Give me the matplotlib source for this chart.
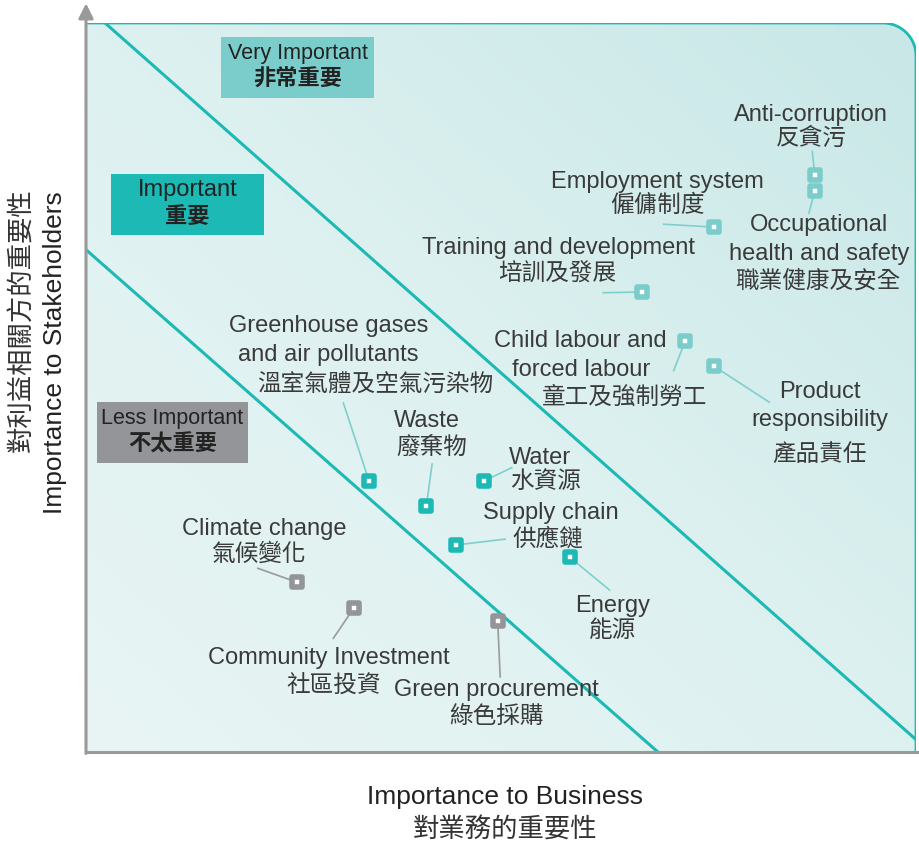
import numpy as np
import matplotlib.pyplot as plt
from matplotlib.colors import LinearSegmentedColormap
from matplotlib.markers import MarkerStyle
from matplotlib.patches import PathPatch, Rectangle
from matplotlib.path import Path

plt.rcParams['font.family'] = ['Liberation Sans', 'Noto Sans CJK TC', 'DejaVu Sans']

# materiality topics, x = importance to business, y = importance to stakeholders (0-10 scale)
topics_en = ['Anti-corruption', 'Occupational\nhealth and safety', 'Employment system',
             'Training and development', 'Child labour and\nforced labour',
             'Product\nresponsibility', 'Greenhouse gases\nand air pollutants', 'Waste',
             'Water', 'Supply chain', 'Energy', 'Climate change', 'Community Investment',
             'Green procurement']
topics_zh = ['反貪污', '職業健康及安全', '僱傭制度', '培訓及發展', '童工及強制勞工', '產品責任',
             '溫室氣體及空氣污染物', '廢棄物', '水資源', '供應鏈', '能源', '氣候變化',
             '社區投資', '綠色採購']
business = [8.78, 8.78, 7.57, 6.70, 7.22, 7.57, 3.41, 4.10, 4.80, 4.46, 5.83, 2.54, 3.23, 4.96]
stakeholders = [7.92, 7.70, 7.20, 6.31, 5.64, 5.29, 3.72, 3.37, 3.72, 2.84, 2.67, 2.33, 1.98, 1.80]
level = ['very', 'very', 'very', 'very', 'very', 'very',
         'imp', 'imp', 'imp', 'imp', 'imp', 'less', 'less', 'less']

# zone boundaries
upper_x = [0.23, 10.0]
upper_y = [10.0, 0.17]
lower_x = [0.0, 6.89]
lower_y = [6.89, 0.0]

zones = ['very', 'imp', 'less']
zone_en = ['Very Important', 'Important', 'Less Important']
zone_zh = ['非常重要', '重要', '不太重要']

# layout: label positions and leader line ends
en_pos = [(8.735, 8.77), (8.83, 7.07), (6.89, 7.86), (5.69, 6.955), (5.96, 5.47),
          (8.84, 4.78), (2.92, 5.68), (4.11, 4.58), (5.47, 4.07), (5.60, 3.31),
          (6.35, 2.04), (2.15, 3.10), (2.93, 1.33), (4.94, 0.89)]
zh_pos = [(8.735, 8.44), (8.82, 6.49), (6.88, 7.53), (5.675, 6.58), (6.49, 4.90),
          (8.84, 4.115), (3.49, 5.06), (4.16, 4.21), (5.54, 3.745), (5.57, 2.95),
          (6.35, 1.69), (2.08, 2.74), (2.98, 0.93), (4.95, 0.51)]
lead_end = [(8.75, 8.24), (8.71, 7.39), (6.96, 7.24), (6.23, 6.30), (7.08, 5.23),
            (8.23, 4.80), (3.10, 4.79), (4.17, 3.95), (5.13, 3.90), (5.05, 2.92),
            (6.31, 2.22), (2.07, 2.52), (2.98, 1.56), (4.99, 1.03)]
label_shift = -0.035
box_rect = {'very': (1.627, 8.97, 1.843, 0.84), 'imp': (0.301, 7.09, 1.844, 0.84),
            'less': (0.133, 3.964, 1.819, 0.837)}
box_color = {'very': '#7BCDCB', 'imp': '#1DB9B4', 'less': '#939598'}
box_en_size = {'very': 15.5, 'imp': 17, 'less': 15.5}
marker_color = {'very': '#7BCDCB', 'imp': '#1DB9B4', 'less': '#939598'}
leader_color = {'very': '#7FCFCC', 'imp': '#7FCFCC', 'less': '#9A9A9A'}

teal = '#1DB9B4'
text_color = '#3A3A3A'

fig = plt.figure(figsize=(9.2, 8.46), dpi=100)
ax = fig.add_axes([86 / 920, 94 / 846, 830 / 920, 729 / 846])
ax.set_xlim(0, 10)
ax.set_ylim(0, 10)
ax.axis('off')

# plot area with a rounded top-right corner
rx, ry = 0.40, 0.45
t = np.linspace(np.pi / 2, 0, 20)
corner = np.column_stack([10 - rx + rx * np.cos(t), 10 - ry + ry * np.sin(t)])
outline = np.vstack([[0, 10], [10 - rx, 10], corner, [10, 0]])
shape = np.vstack([[0, 0], outline, [0, 0]])
patch = PathPatch(Path(shape), facecolor='none', edgecolor='none')
ax.add_patch(patch)

gx, gy = np.meshgrid(np.linspace(0, 1, 300), np.linspace(0, 1, 300))
grad = (gx + gy) / 2
cmap = LinearSegmentedColormap.from_list('bg', ['#E8F5F4', '#DDF1F0', '#C8E7E7'])
im = ax.imshow(grad, extent=[0, 10, 0, 10], origin='lower', cmap=cmap, aspect='auto',
               zorder=0)
im.set_clip_path(patch)

ax.plot(outline[:, 0], outline[:, 1], color=teal, lw=2, solid_capstyle='butt', zorder=2)
ax.plot(upper_x, upper_y, color=teal, lw=2.2, zorder=2)
ax.plot(lower_x, lower_y, color=teal, lw=2.2, zorder=2)

# axes: gray bottom line and left arrow
ax.plot([0, 1.003], [0, 0], transform=ax.transAxes, color='#9A9A9A', lw=2.2,
        clip_on=False, zorder=3)
ax.annotate('', xy=(0, 1.027), xytext=(0, -0.002), xycoords='axes fraction',
            arrowprops=dict(arrowstyle='-|>', color='#9A9A9A', lw=2.2,
                            mutation_scale=22, shrinkA=0, shrinkB=0), zorder=3)

# zone boxes
for z, en, zh in zip(zones, zone_en, zone_zh):
    x0, y0, w, h = box_rect[z]
    ax.add_patch(Rectangle((x0, y0), w, h, facecolor=box_color[z], edgecolor='none',
                           zorder=3))
    ax.text(x0 + w / 2, y0 + h * 0.73, en, ha='center', va='center',
            fontsize=box_en_size[z], color='#222222', zorder=4)
    ax.text(x0 + w / 2, y0 + h * 0.29, zh, ha='center', va='center', fontsize=16,
            fontweight='bold', color='#222222', zorder=4)

# leader lines
for bx, sy, (lx, ly), lv in zip(business, stakeholders, lead_end, level):
    ax.plot([bx, lx], [sy, ly], color=leader_color[lv], lw=1.2, zorder=4)

# topic markers
sq = MarkerStyle('s', joinstyle='round')
for bx, sy, lv in zip(business, stakeholders, level):
    ax.plot(bx, sy, marker=sq, ms=7.8, mfc='white', mec=marker_color[lv], mew=4.0,
            zorder=5)

# labels
for en, zh, (ex, ey), (zx, zy) in zip(topics_en, topics_zh, en_pos, zh_pos):
    ax.text(ex, ey + label_shift, en, ha='center', va='center', ma='center',
            fontsize=17, linespacing=1.4, color=text_color, zorder=6)
    ax.text(zx, zy + label_shift, zh, ha='center', va='center', fontsize=17,
            color=text_color, zorder=6)

# axis titles
fig.text(505 / 920, 1 - 797 / 846, 'Importance to Business', ha='center', va='center',
         fontsize=19, color='#222222')
fig.text(505 / 920, 1 - 829 / 846, '對業務的重要性', ha='center', va='center',
         fontsize=19, color='#333333')
fig.text(55 / 920, 1 - 353 / 846, 'Importance to Stakeholders', ha='center',
         va='center', rotation=90, fontsize=19, color='#222222')
fig.text(22 / 920, 1 - 320 / 846, '對利益相關方的重要性', ha='center', va='center',
         rotation=90, fontsize=19, color='#333333')

fig.savefig('out.png', dpi=100, facecolor='white')
